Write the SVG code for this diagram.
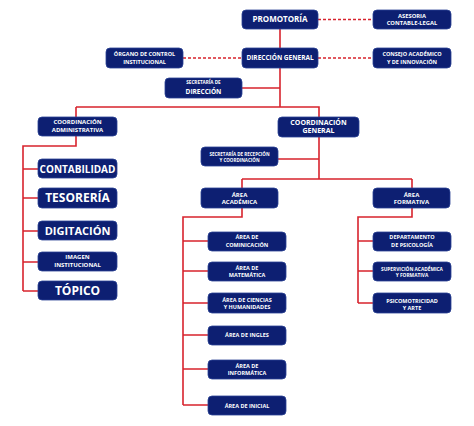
<svg xmlns="http://www.w3.org/2000/svg" width="474" height="426" viewBox="0 0 474 426">
<style>
.b{fill:#0d1f72;stroke:#2b4394;stroke-width:0.8}
.t{fill:#fff;font-family:"Open Sans","Noto Sans",sans-serif;font-weight:bold;text-anchor:middle}
.r{stroke:#d8232d;stroke-width:1.6;fill:none}
.d{stroke:#d8232d;stroke-width:1.3;stroke-dasharray:3,2;fill:none}
</style>
<rect width="474" height="426" fill="#fff"/>
<g id="connectors">
<path class="r" d="M280 29V107M242 88H280M76 107H319V179M76 107V146H23V291M23 169H38M23 198H38M23 231H38M23 262H38M23 291H38M278 159H319M242 179H412M242 179V217H183V405M412 179V217H358V303M183 241H208M183 271H208M183 303H208M183 335H208M183 369H208M183 405H208M358 241H373M358 271H373M358 303H373"/>
<path class="d" d="M318 19.5H373M183 58H242M318 58H373"/>
</g>
<g id="promotoria"><rect class="b" x="242" y="10" width="76" height="19" rx="4"/><text class="t" x="280" y="22.4" font-size="8">PROMOTORÍA</text></g>
<g id="asesoria"><rect class="b" x="373" y="10" width="78" height="19" rx="4"/><text class="t" x="412" y="17.8" font-size="5.8">ASESORIA</text><text class="t" x="412" y="25.4" font-size="5.8">CONTABLE-LEGAL</text></g>
<g id="organo"><rect class="b" x="106" y="48" width="77" height="20" rx="4"/><text class="t" x="144.5" y="56.3" font-size="5.5">ÓRGANO DE CONTROL</text><text class="t" x="144.5" y="63.7" font-size="5.5">INSTITUCIONAL</text></g>
<g id="direccion"><rect class="b" x="242" y="48" width="76" height="20" rx="4"/><text class="t" x="280" y="60.4" font-size="6.5">DIRECCIÓN GENERAL</text></g>
<g id="consejo"><rect class="b" x="373" y="48" width="78" height="20" rx="4"/><text class="t" x="412" y="56.1" font-size="5.5">CONSEJO ACADÉMICO</text><text class="t" x="412" y="63.7" font-size="5.5">Y DE INNOVACIÓN</text></g>
<g id="secretaria-direccion"><rect class="b" x="165" y="78" width="77" height="20" rx="4"/><text class="t" x="203.5" y="83.9" font-size="4.6">SECRETARÍA DE</text><text class="t" x="203.5" y="94" font-size="6.5">DIRECCIÓN</text></g>
<g id="coord-admin"><rect class="b" x="38" y="117" width="79" height="19" rx="4"/><text class="t" x="77.5" y="124.4" font-size="6">COORDINACIÓN</text><text class="t" x="77.5" y="132.2" font-size="6">ADMINISTRATIVA</text></g>
<g id="contabilidad"><rect class="b" x="38" y="159" width="79" height="19" rx="4"/><text class="t" x="77.5" y="172.6" font-size="10">CONTABILIDAD</text></g>
<g id="tesoreria"><rect class="b" x="38" y="188" width="79" height="20" rx="4"/><text class="t" x="77.5" y="202.4" font-size="12">TESORERÍA</text></g>
<g id="digitacion"><rect class="b" x="38" y="221" width="79" height="19" rx="4"/><text class="t" x="77.5" y="234.9" font-size="11">DIGITACIÓN</text></g>
<g id="imagen"><rect class="b" x="38" y="252" width="79" height="19" rx="4"/><text class="t" x="77.5" y="258.8" font-size="6">IMAGEN</text><text class="t" x="77.5" y="267.1" font-size="6">INSTITUCIONAL</text></g>
<g id="topico"><rect class="b" x="38" y="281" width="79" height="19" rx="4"/><text class="t" x="77.5" y="295" font-size="12">TÓPICO</text></g>
<g id="coord-general"><rect class="b" x="278" y="117" width="81" height="20" rx="4"/><text class="t" x="318.5" y="124.8" font-size="7">COORDINACIÓN</text><text class="t" x="318.5" y="133.2" font-size="7">GENERAL</text></g>
<g id="secretaria-recepcion"><rect class="b" x="201" y="147" width="77" height="19" rx="4"/><text class="t" x="239.5" y="155.9" font-size="4.5">SECRETARÍA DE RECEPCIÓN</text><text class="t" x="239.5" y="162.3" font-size="4.5">Y COORDINACIÓN</text></g>
<g id="area-academica"><rect class="b" x="201" y="188" width="77" height="20" rx="4"/><text class="t" x="239.5" y="196.5" font-size="6">ÁREA</text><text class="t" x="239.5" y="203.9" font-size="6">ACADÉMICA</text></g>
<g id="area-formativa"><rect class="b" x="373" y="188" width="77" height="20" rx="4"/><text class="t" x="411.5" y="196.5" font-size="6">ÁREA</text><text class="t" x="411.5" y="203.9" font-size="6">FORMATIVA</text></g>
<g id="comunicacion"><rect class="b" x="208" y="232" width="78" height="19" rx="4"/><text class="t" x="247" y="239.3" font-size="5.5">ÁREA DE</text><text class="t" x="247" y="246.7" font-size="5.5">COMINICACIÓN</text></g>
<g id="matematica"><rect class="b" x="208" y="262" width="78" height="19" rx="4"/><text class="t" x="247" y="269.7" font-size="5.5">ÁREA DE</text><text class="t" x="247" y="277" font-size="5.5">MATEMÁTICA</text></g>
<g id="ciencias"><rect class="b" x="208" y="293" width="78" height="20" rx="4"/><text class="t" x="247" y="302" font-size="5.5">ÁREA DE CIENCIAS</text><text class="t" x="247" y="309.3" font-size="5.5">Y HUMANIDADES</text></g>
<g id="ingles"><rect class="b" x="208" y="326" width="78" height="19" rx="4"/><text class="t" x="247" y="337" font-size="5.5">ÁREA DE INGLES</text></g>
<g id="informatica"><rect class="b" x="208" y="360" width="78" height="19" rx="4"/><text class="t" x="247" y="367.7" font-size="5.5">ÁREA DE</text><text class="t" x="247" y="375.3" font-size="5.5">INFORMÁTICA</text></g>
<g id="inicial"><rect class="b" x="208" y="396" width="78" height="19" rx="4"/><text class="t" x="247" y="407.7" font-size="5.5">ÁREA DE INICIAL</text></g>
<g id="psicologia"><rect class="b" x="373" y="232" width="78" height="19" rx="4"/><text class="t" x="412" y="239.3" font-size="5.5">DEPARTAMENTO</text><text class="t" x="412" y="246.7" font-size="5.5">DE PSICOLOGÍA</text></g>
<g id="supervision"><rect class="b" x="373" y="262" width="78" height="19" rx="4"/><text class="t" x="412" y="271" font-size="4.8">SUPERVICIÓN ACADÉMICA</text><text class="t" x="412" y="277" font-size="4.8">Y FORMATIVA</text></g>
<g id="psicomotricidad"><rect class="b" x="373" y="293" width="78" height="20" rx="4"/><text class="t" x="412" y="302.7" font-size="5.5">PSICOMOTRICIDAD</text><text class="t" x="412" y="310" font-size="5.5">Y ARTE</text></g>
</svg>
